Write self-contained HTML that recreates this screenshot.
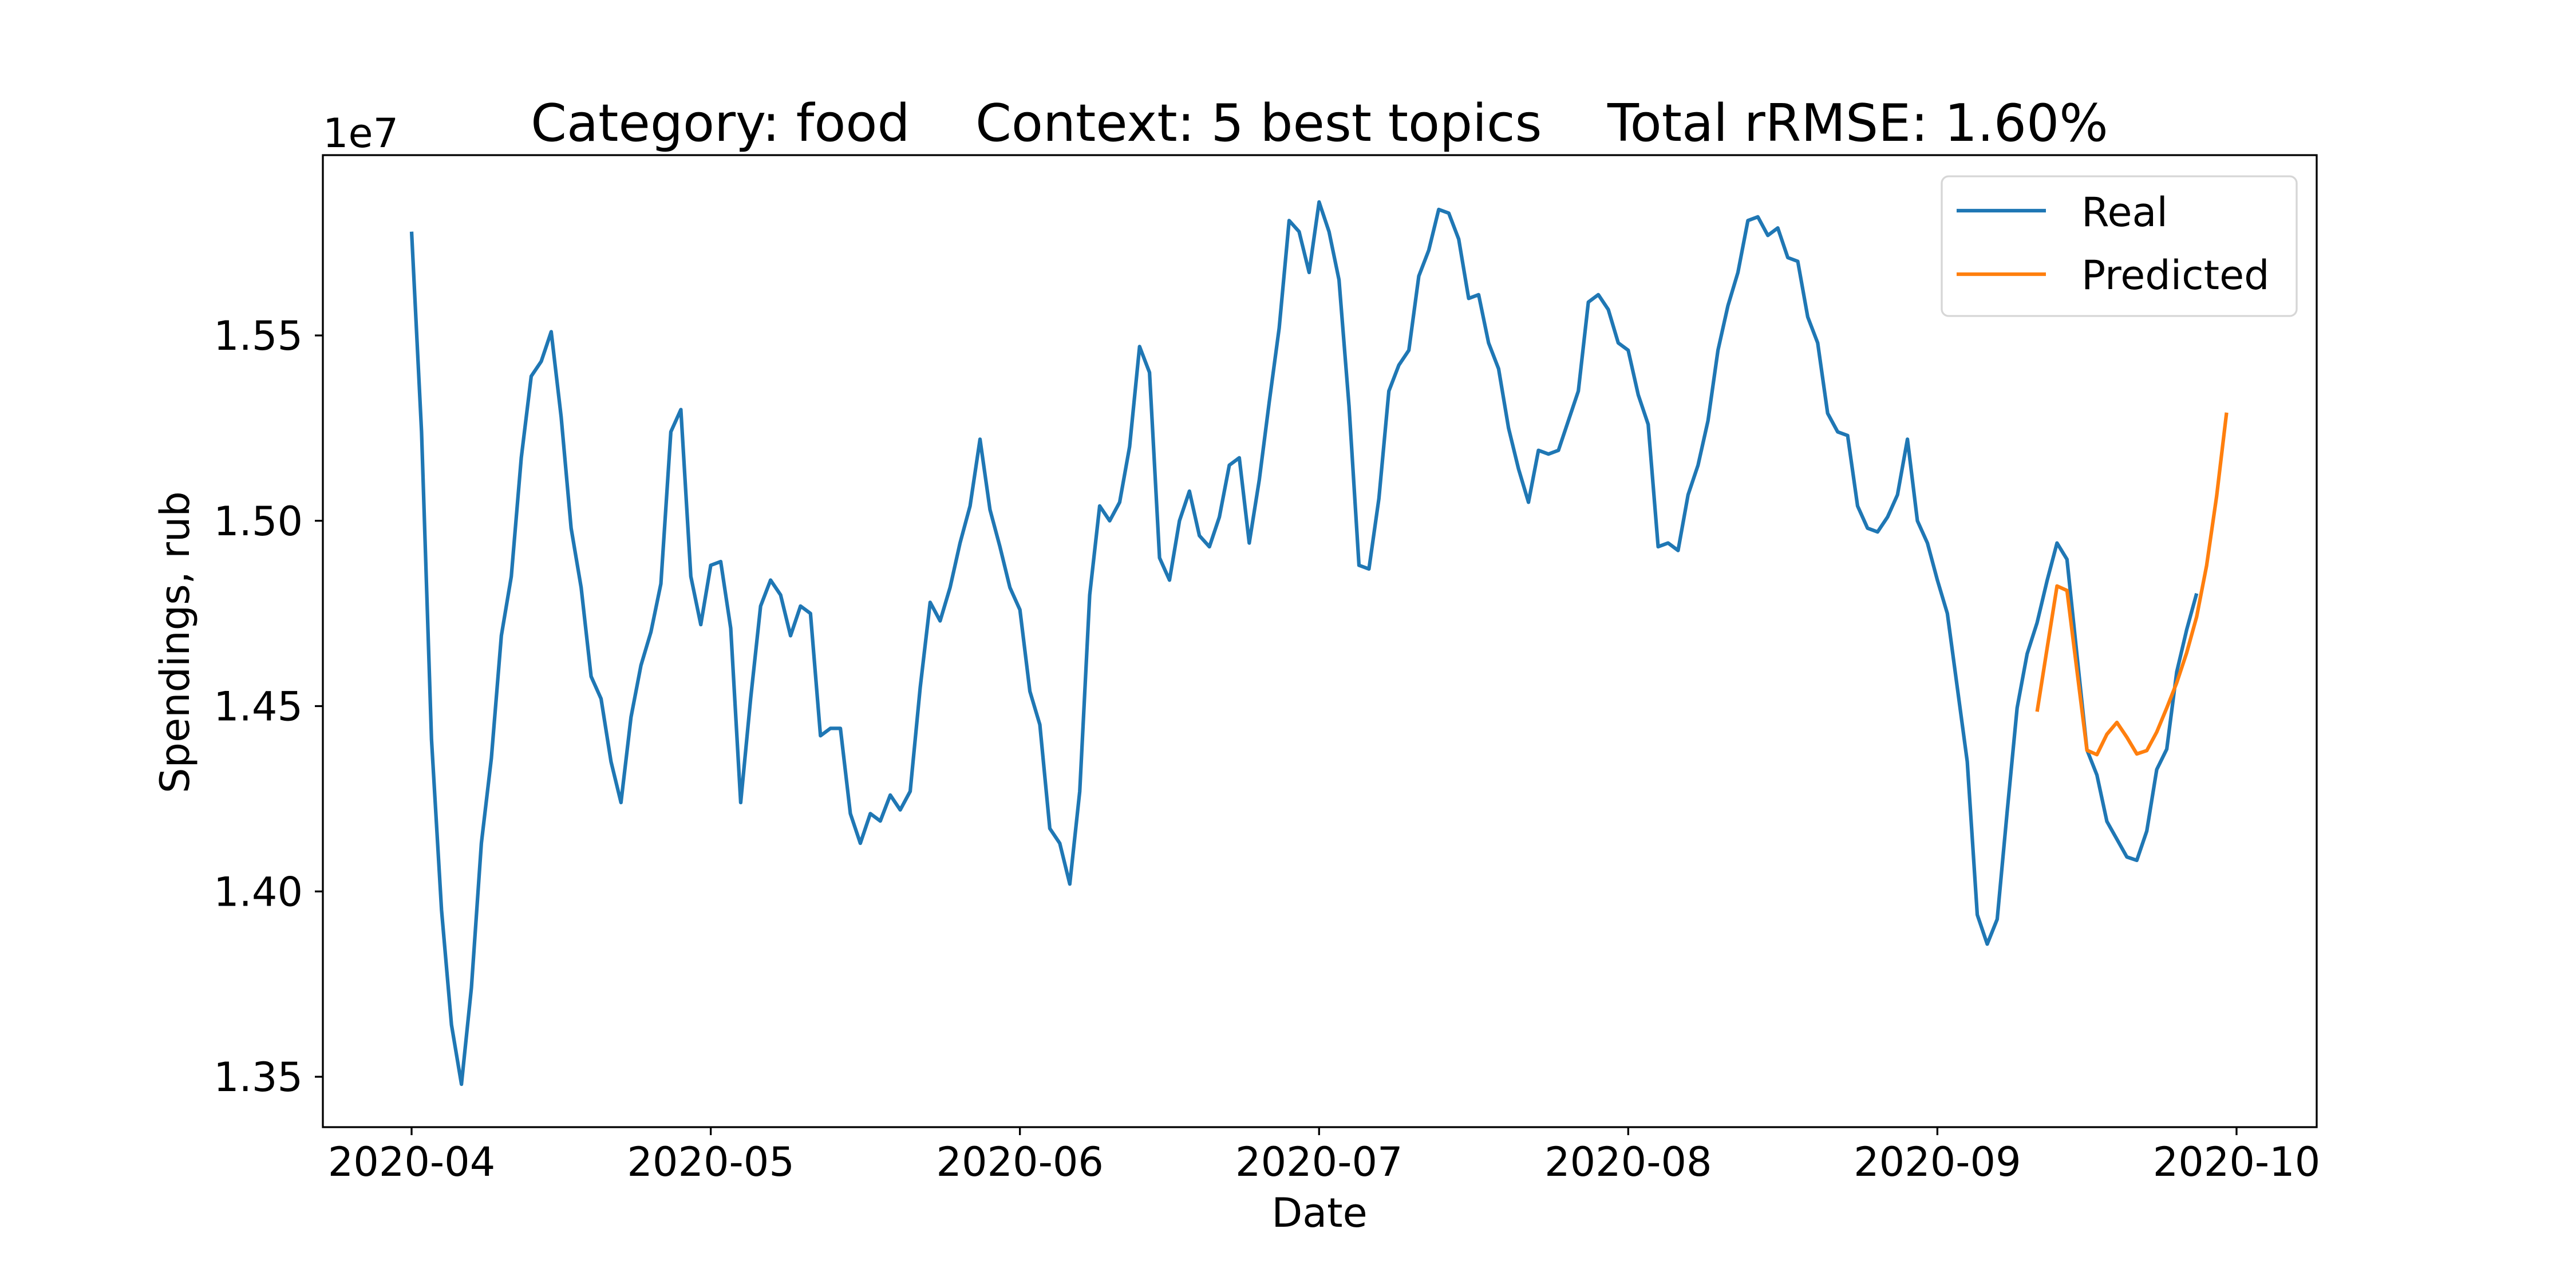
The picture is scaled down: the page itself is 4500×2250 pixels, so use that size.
<!DOCTYPE html>
<html><head><meta charset="utf-8">
<style>
html,body{margin:0;padding:0;background:#fff;}
svg{display:block;}
text{font-family:"DejaVu Sans","Liberation Sans",sans-serif;fill:#000;}
</style></head>
<body>
<svg id="chart" width="4500" height="2250" viewBox="0 0 4500 2250" xmlns="http://www.w3.org/2000/svg">
<rect x="0" y="0" width="4500" height="2250" fill="#fff"/>
<text x="2305" y="246" font-size="90" text-anchor="middle" style="white-space:pre" xml:space="preserve">Category: food    Context: 5 best topics    Total rRMSE: 1.60%</text>
<text x="564" y="257" font-size="70">1e7</text>
<g id="plot"></g>
<rect x="564" y="271" width="3483" height="1698" fill="none" stroke="#000" stroke-width="3.3"/>
<g id="xticks"></g>
<g id="yticks"></g>
<text x="2305" y="2143" font-size="70" text-anchor="middle">Date</text>
<text x="0" y="0" font-size="70" text-anchor="middle" transform="translate(330,1122) rotate(-90)">Spendings, rub</text>
<g>
<rect x="3392" y="308" width="620" height="244" rx="12" fill="#fff" fill-opacity="0.8" stroke="#d6d6d6" stroke-width="3.3"/>
<line x1="3418" y1="368" x2="3574" y2="368" stroke="#1f77b4" stroke-width="6.25"/>
<text x="3636" y="395" font-size="70">Real</text>
<line x1="3418" y1="479" x2="3574" y2="479" stroke="#ff7f0e" stroke-width="6.25"/>
<text x="3636" y="505" font-size="70">Predicted</text>
</g>
</svg>
<script>
const realStartDay = 0;
const realValues = [1.578,1.524,1.441,1.395,1.364,1.348,1.374,1.413,1.436,1.469,1.485,1.517,1.539,1.543,1.551,1.528,1.498,1.482,1.458,1.452,1.435,1.424,1.447,1.461,1.470,1.483,1.524,1.530,1.485,1.472,1.488,1.489,1.471,1.424,1.452,1.477,1.484,1.480,1.469,1.477,1.475,1.442,1.444,1.444,1.421,1.413,1.421,1.419,1.426,1.422,1.427,1.455,1.478,1.473,1.482,1.494,1.504,1.522,1.503,1.493,1.482,1.476,1.454,1.445,1.417,1.413,1.402,1.427,1.480,1.504,1.500,1.505,1.520,1.547,1.540,1.490,1.484,1.500,1.508,1.496,1.493,1.501,1.515,1.517,1.494,1.511,1.532,1.552,1.581,1.578,1.567,1.586,1.578,1.565,1.531,1.488,1.487,1.506,1.535,1.542,1.546,1.566,1.573,1.584,1.583,1.576,1.560,1.561,1.548,1.541,1.525,1.514,1.505,1.519,1.518,1.519,1.527,1.535,1.559,1.561,1.557,1.548,1.546,1.534,1.526,1.493,1.494,1.492,1.507,1.515,1.527,1.546,1.558,1.567,1.581,1.582,1.577,1.579,1.571,1.570,1.555,1.548,1.529,1.524,1.523,1.504,1.498,1.497,1.501,1.507,1.522,1.500,1.494,1.484,1.475,1.455,1.435,1.3937,1.3858,1.3925,1.4215,1.4495,1.4641,1.4725,1.4838,1.4940,1.4896,1.4637,1.4382,1.4314,1.4189,1.4141,1.4093,1.4084,1.4163,1.4329,1.4384,1.4592,1.4706,1.4804];
const predStartDay = 163;
const predValues = [1.4485,1.4655,1.4824,1.4812,1.4595,1.4381,1.4369,1.4424,1.4456,1.4416,1.4371,1.4380,1.4430,1.4495,1.4563,1.4644,1.4741,1.4879,1.5066,1.5292];
const xTickLabels = ["2020-04","2020-05","2020-06","2020-07","2020-08","2020-09","2020-10"];
const xTickDays = [0,30,61,91,122,153,183];
const yTickValues = [1.35,1.40,1.45,1.50,1.55];
const yTickLabels = ["1.35","1.40","1.45","1.50","1.55"];

const NS = "http://www.w3.org/2000/svg";
function xScale(d){ return 719 + d * (3907 - 719) / 183; }
function yScale(v){ return 1881 - (v - 1.35) / 0.2 * (1881 - 586); }

const plot = document.getElementById('plot');
function drawLine(vals, start, color, name){
  const pts = vals.map((v,i)=> xScale(start+i).toFixed(1)+','+yScale(v).toFixed(1)).join(' ');
  const pl = document.createElementNS(NS,'polyline');
  pl.setAttribute('points', pts);
  pl.setAttribute('fill','none');
  pl.setAttribute('stroke', color);
  pl.setAttribute('stroke-width','6.25');
  pl.setAttribute('stroke-linejoin','round');
  
  
  plot.appendChild(pl);
}
drawLine(realValues, realStartDay, '#1f77b4', 'real-line');
drawLine(predValues, predStartDay, '#ff7f0e', 'predicted-line');

const xg = document.getElementById('xticks');
xTickDays.forEach((d,i)=>{
  const x = xScale(d);
  const t = document.createElementNS(NS,'line');
  t.setAttribute('x1',x); t.setAttribute('x2',x); t.setAttribute('y1',1969); t.setAttribute('y2',1983);
  t.setAttribute('stroke','#000'); t.setAttribute('stroke-width','3.3');
  
  
  xg.appendChild(t);
  const tx = document.createElementNS(NS,'text');
  tx.setAttribute('x',x); tx.setAttribute('y',2054); tx.setAttribute('font-size','70'); tx.setAttribute('text-anchor','middle');
  tx.textContent = xTickLabels[i];
  
  
  xg.appendChild(tx);
});
const yg = document.getElementById('yticks');
yTickValues.forEach((v,i)=>{
  const y = yScale(v);
  const t = document.createElementNS(NS,'line');
  t.setAttribute('x1',550); t.setAttribute('x2',564); t.setAttribute('y1',y); t.setAttribute('y2',y);
  t.setAttribute('stroke','#000'); t.setAttribute('stroke-width','3.3');
  
  
  yg.appendChild(t);
  const tx = document.createElementNS(NS,'text');
  tx.setAttribute('x',529); tx.setAttribute('y',y+25); tx.setAttribute('font-size','70'); tx.setAttribute('text-anchor','end');
  tx.textContent = yTickLabels[i];
  
  
  yg.appendChild(tx);
});
</script>
</body></html>
